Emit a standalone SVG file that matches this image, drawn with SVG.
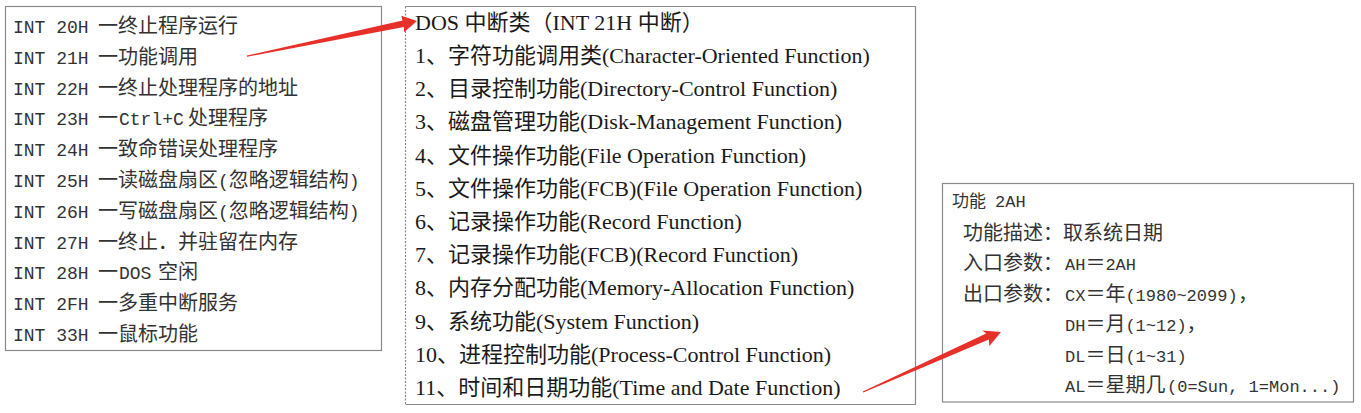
<svg xmlns="http://www.w3.org/2000/svg" width="1361" height="413" viewBox="0 0 1361 413">
<style>
.box{fill:#fff;stroke:#8a8a8a;stroke-width:1.2}
.m{font-family:"Liberation Mono","Noto Sans CJK SC",monospace;font-size:18px;fill:#333}
.c{font-family:"Noto Sans CJK SC",sans-serif;font-size:20px;fill:#333}
.s{font-family:"Liberation Serif","Noto Sans CJK SC",serif;font-size:22px;fill:#1a1a1a}
.m3{font-family:"Liberation Mono","Noto Sans CJK SC",monospace;font-size:17px;fill:#333}
.arrow{fill:#e8302a;stroke:none}
</style>
<rect width="1361" height="413" fill="#fff"/>
<g id="box1">
<rect class="box" x="5.5" y="6.5" width="376" height="344"/>
<text class="m" x="13" y="33">INT 20H <tspan x="98" class="c">一终止程序运行</tspan></text>
<text class="m" x="13" y="63.8">INT 21H <tspan x="98" class="c">一功能调用</tspan></text>
<text class="m" x="13" y="94.6">INT 22H <tspan x="98" class="c">一终止处理程序的地址</tspan></text>
<text class="m" x="13" y="125.4">INT 23H <tspan x="98" class="c">一</tspan><tspan x="119">Ctrl+C</tspan><tspan x="188" class="c">处理程序</tspan></text>
<text class="m" x="13" y="156.2">INT 24H <tspan x="98" class="c">一致命错误处理程序</tspan></text>
<text class="m" x="13" y="187">INT 25H <tspan x="98" class="c">一读磁盘扇区</tspan><tspan>(</tspan><tspan class="c">忽略逻辑结构</tspan><tspan>)</tspan></text>
<text class="m" x="13" y="217.8">INT 26H <tspan x="98" class="c">一写磁盘扇区</tspan><tspan>(</tspan><tspan class="c">忽略逻辑结构</tspan><tspan>)</tspan></text>
<text class="m" x="13" y="248.6">INT 27H <tspan x="98" class="c">一终止．并驻留在内存</tspan></text>
<text class="m" x="13" y="279.4">INT 28H <tspan x="98" class="c">一</tspan><tspan x="119">DOS</tspan><tspan x="158" class="c">空闲</tspan></text>
<text class="m" x="13" y="310.2">INT 2FH <tspan x="98" class="c">一多重中断服务</tspan></text>
<text class="m" x="13" y="341">INT 33H <tspan x="98" class="c">一鼠标功能</tspan></text>
</g>
<g id="box2">
<path d="M405.5 6.5 H915.5 V404.5 H405.5" fill="#fff" stroke="#8a8a8a" stroke-width="1.2"/>
<line x1="405.5" y1="6.5" x2="405.5" y2="404.5" stroke="#8a8a8a" stroke-width="1.2" stroke-dasharray="2 1.5"/>
<text class="s" x="415" y="30">DOS 中断类（INT 21H 中断）</text>
<text class="s" x="415" y="63">1、字符功能调用类(Character-Oriented Function)</text>
<text class="s" x="415" y="96.2">2、目录控制功能(Directory-Control Function)</text>
<text class="s" x="415" y="129.4">3、磁盘管理功能(Disk-Management Function)</text>
<text class="s" x="415" y="162.6">4、文件操作功能(File Operation Function)</text>
<text class="s" x="415" y="195.8">5、文件操作功能(FCB)(File Operation Function)</text>
<text class="s" x="415" y="229">6、记录操作功能(Record Function)</text>
<text class="s" x="415" y="262.2">7、记录操作功能(FCB)(Record Function)</text>
<text class="s" x="415" y="295.4">8、内存分配功能(Memory-Allocation Function)</text>
<text class="s" x="415" y="328.6">9、系统功能(System Function)</text>
<text class="s" x="415" y="361.8">10、进程控制功能(Process-Control Function)</text>
<text class="s" x="415" y="395">11、时间和日期功能(Time and Date Function)</text>
</g>
<g id="box3">
<rect class="box" x="942.5" y="183.5" width="411" height="218.5"/>
<text class="c" x="952" y="207" style="font-size:17px">功能<tspan x="995" class="m3" style="font-size:17px">2AH</tspan></text>
<text class="c" x="963" y="239.5">功能描述：取系统日期</text>
<text class="c" x="963" y="270">入口参数：<tspan x="1065" class="m3">AH</tspan><tspan x="1085.4">＝</tspan><tspan x="1105.4" class="m3">2AH</tspan></text>
<text class="c" x="963" y="300.5">出口参数：<tspan x="1065" class="m3">CX</tspan><tspan x="1085.4">＝年</tspan><tspan x="1125.4" class="m3">(1980~2099)</tspan><tspan x="1238">，</tspan></text>
<text class="m3" x="1065" y="331">DH<tspan x="1085.4" class="c">＝月</tspan><tspan x="1125.4">(1~12)</tspan><tspan x="1186.6" class="c">，</tspan></text>
<text class="m3" x="1065" y="361.5">DL<tspan x="1085.4" class="c">＝日</tspan><tspan x="1125.4">(1~31)</tspan></text>
<text class="m3" x="1065" y="392">AL<tspan x="1085.4" class="c">＝星期几</tspan><tspan x="1167">(0=Sun, 1=Mon...)</tspan></text>
</g>
<g id="connectors">
<polygon class="arrow" points="246.9,55.5 402.5,20.6 401.3,15.8 417,21 404.0,32.2 403.9,27.0 247.1,56.8"/>
<polygon class="arrow" points="862.8,391.5 986.2,333.6 982.3,330.6 1001,332 989.4,346.0 988.8,339.6 863.3,392.6"/>
</g>
</svg>
